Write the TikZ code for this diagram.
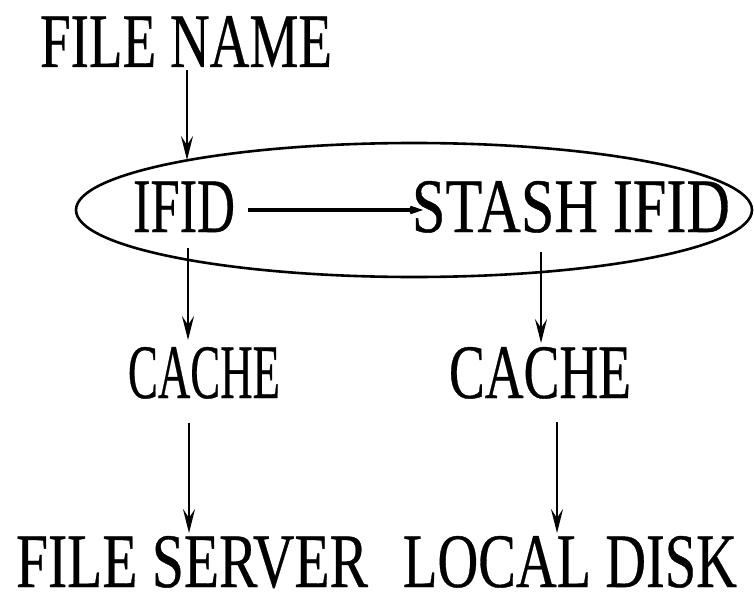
\documentclass[tikz,border=0pt]{standalone}
\usepackage{fontspec}
\usepackage{graphicx}
\newfontfamily\labelfont[FakeBold=0.5]{Liberation Serif}
\usetikzlibrary{arrows.meta,shapes.geometric}
% condensed label: fixed width, natural height
\newcommand\narrowtext[2]{\resizebox{#1}{\height}{#2}}
\tikzset{
  lbl/.style={inner sep=0pt, anchor=base, font=\labelfont\fontsize{77}{80}\selectfont},
  down/.style={line width=2pt, -{Stealth[length=24pt,width=12pt,inset=9pt]}},
  across/.style={line width=3.5pt, -{Stealth[length=26pt,width=18pt,inset=17pt]}},
}
\begin{document}
\begin{tikzpicture}[x=1pt,y=-1pt]
\useasboundingbox (0,0) rectangle (754,591);

% labels
\node[lbl] (fname)  at (186,67)  {\narrowtext{292pt}{FILE NAME}};
\node[lbl] (ifid)   at (184,232) {\narrowtext{102pt}{IFID}};
\node[lbl] (stash)  at (571,232) {\narrowtext{318pt}{STASH IFID}};
\node[lbl] (cacheL) at (204,398) {\narrowtext{152pt}{CACHE}};
\node[lbl] (cacheR) at (540,398) {\narrowtext{182pt}{CACHE}};
\node[lbl] (server) at (192,587) {\narrowtext{352pt}{FILE SERVER}};
\node[lbl] (disk)   at (570,587) {\narrowtext{334pt}{LOCAL DISK}};

% the ellipse grouping the two identifiers
\node (grp) [draw, ellipse, line width=2.6pt, inner sep=0pt,
             minimum width=676pt, minimum height=134pt] at (414,210) {};

% connector end points
\coordinate (fnameOut) at (187,70);
\coordinate (grpIn)    at (187,160);
\coordinate (ifidOut)  at (188,248);
\coordinate (cLIn)     at (188,340);
\coordinate (stashOut) at (541,252);
\coordinate (cRIn)     at (541,343);
\coordinate (cLOut)    at (189,423);
\coordinate (srvIn)    at (189,533);
\coordinate (cROut)    at (557,422);
\coordinate (diskIn)   at (557,533);
\coordinate (ifidR)    at (248,210);
\coordinate (stashL)   at (423,210);

\draw[down] (fnameOut) -- (grpIn);
\draw[across] (ifidR) -- (stashL);
\draw[down] (ifidOut) -- (cLIn);
\draw[down] (stashOut) -- (cRIn);
\draw[down] (cLOut) -- (srvIn);
\draw[down] (cROut) -- (diskIn);
\end{tikzpicture}
\end{document}
